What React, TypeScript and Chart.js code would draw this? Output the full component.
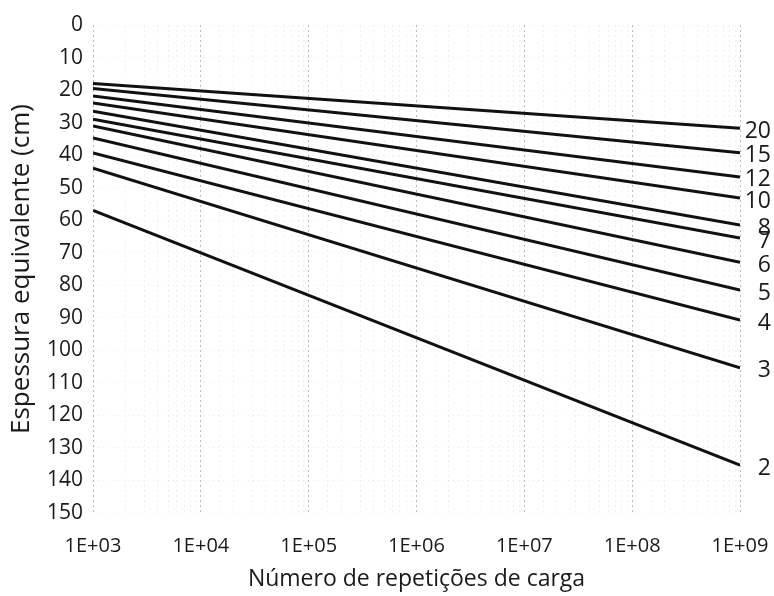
import React, { useEffect, useRef } from 'react';
import { Chart, registerables } from 'chart.js';

Chart.register(...registerables);

// X values: number of load repetitions (log scale)
const repetitions = [1e3, 1e9];

// Curve labels shown at the right end of each line
const curveLabels = ['20', '15', '12', '10', '8', '7', '6', '5', '4', '3', '2'];

// Equivalent thickness (cm) at 1E+03 and 1E+09 for each curve
const curve20 = [18.0, 31.7];
const curve15 = [19.5, 39.3];
const curve12 = [21.8, 46.7];
const curve10 = [24.0, 53.2];
const curve8 = [26.5, 61.5];
const curve7 = [29.0, 65.5];
const curve6 = [31.0, 72.9];
const curve5 = [34.7, 81.5];
const curve4 = [39.3, 90.7];
const curve3 = [44.0, 105.4];
const curve2 = [57.0, 135.3];

const curves = [curve20, curve15, curve12, curve10, curve8, curve7, curve6, curve5, curve4, curve3, curve2];

// X tick labels (decades)
const xTickExponents = [3, 4, 5, 6, 7, 8, 9];
const xTickLabels = ['1E+03', '1E+04', '1E+05', '1E+06', '1E+07', '1E+08', '1E+09'];

const xTitle = 'Número de repetições de carga';
const yTitle = 'Espessura equivalente (cm)';

const FONT = "'Open Sans', sans-serif";

const isDecade = (v: number) => {
  const e = Math.log10(v);
  return Math.abs(e - Math.round(e)) < 1e-6;
};

const endLabelPlugin = {
  id: 'endLabels',
  afterDatasetsDraw(chart: any) {
    const ctx = chart.ctx;
    ctx.save();
    ctx.font = `23px ${FONT}`;
    ctx.fillStyle = '#1a1a1a';
    ctx.textAlign = 'right';
    ctx.textBaseline = 'middle';
    chart.data.datasets.forEach((_ds: any, i: number) => {
      const meta = chart.getDatasetMeta(i);
      const last = meta.data[meta.data.length - 1];
      if (!last) return;
      ctx.fillText(curveLabels[i], chart.width - 3, last.y + 3);
    });
    ctx.restore();
  },
};

export default function App() {
  const canvasRef = useRef<HTMLCanvasElement | null>(null);

  useEffect(() => {
    document.body.style.margin = '0';
    const canvas = canvasRef.current;
    if (!canvas) return;

    const chart = new Chart(canvas, {
      type: 'line',
      data: {
        datasets: curves.map((c, i) => ({
          label: curveLabels[i],
          data: repetitions.map((x, j) => ({ x, y: c[j] })),
          borderColor: '#111111',
          borderWidth: 3,
          pointRadius: 0,
          tension: 0,
          fill: false,
        })),
      },
      options: {
        animation: false,
        responsive: true,
        maintainAspectRatio: false,
        layout: { padding: { top: 25, right: 34, bottom: 0, left: 0 } },
        plugins: {
          legend: { display: false },
          tooltip: { enabled: false },
        },
        scales: {
          x: {
            type: 'logarithmic',
            min: 1e3,
            max: 1e9,
            afterFit: (scale: any) => {
              scale.height = 83;
              scale.paddingLeft = 0;
              scale.paddingRight = 0;
            },
            border: { display: false, dash: [2, 3] },
            grid: {
              drawTicks: false,
              lineWidth: 1,
              color: (ctx: any) => {
                const v = ctx.tick ? ctx.tick.value : 0;
                return isDecade(v) ? 'rgba(120,120,120,0.5)' : 'rgba(160,160,160,0.16)';
              },
            },
            ticks: {
              autoSkip: false,
              maxRotation: 0,
              minRotation: 0,
              padding: 21,
              color: '#1a1a1a',
              font: { family: FONT, size: 20 },
              callback: (value: any) => {
                const v = Number(value);
                if (!isDecade(v)) return '';
                const idx = xTickExponents.indexOf(Math.round(Math.log10(v)));
                return idx >= 0 ? xTickLabels[idx] : '';
              },
            },
            title: {
              display: true,
              text: xTitle,
              color: '#1a1a1a',
              font: { family: FONT, size: 23 },
              padding: { top: 0, bottom: 3 },
            },
          },
          y: {
            type: 'linear',
            reverse: true,
            min: 0,
            max: 150,
            afterFit: (scale: any) => {
              scale.width = 93;
            },
            border: { display: false, dash: [1, 4] },
            grid: {
              drawTicks: false,
              color: 'rgba(160,160,160,0.18)',
            },
            ticks: {
              stepSize: 10,
              autoSkip: false,
              padding: 10,
              color: '#1a1a1a',
              font: { family: FONT, size: 21 },
            },
            title: {
              display: true,
              text: yTitle,
              color: '#1a1a1a',
              font: { family: FONT, size: 26 },
              padding: { top: 6, bottom: 0 },
            },
          },
        },
      },
      plugins: [endLabelPlugin],
    });

    return () => {
      chart.destroy();
    };
  }, []);

  return (
    <div style={{ position: 'relative', width: 774, height: 596, background: '#ffffff' }}>
      <canvas ref={canvasRef} />
    </div>
  );
}
